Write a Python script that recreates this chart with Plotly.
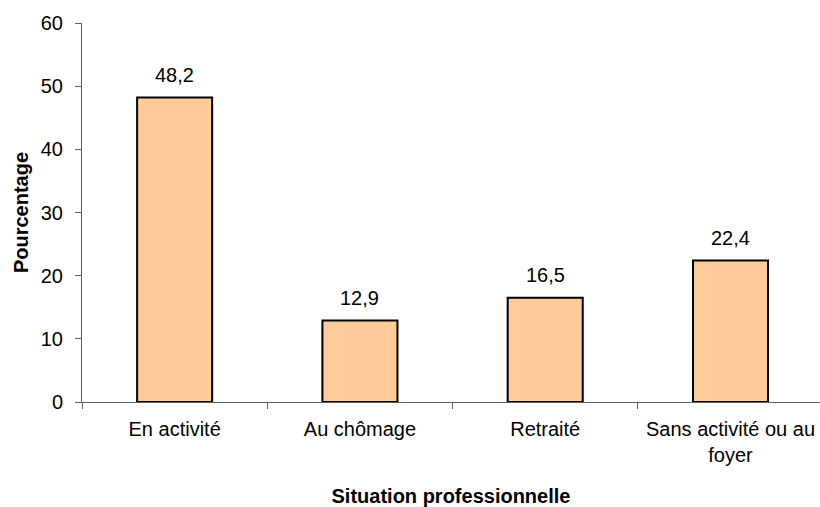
import plotly.graph_objects as go

# Répartition par situation professionnelle (%)
categories = ["En activité", "Au chômage", "Retraité", "Sans activité ou au<br>foyer"]
values = [48.2, 12.9, 16.5, 22.4]
y_ticks = [0, 10, 20, 30, 40, 50, 60]

FONT = "Liberation Sans, Arial, sans-serif"

fig = go.Figure(
    go.Bar(
        x=categories,
        y=values,
        marker=dict(color="#FFCC99", line=dict(color="#000000", width=2)),
        hoverinfo="skip",
    )
)

# Value labels above each bar, with a comma as decimal separator
for cat, val in zip(categories, values):
    fig.add_annotation(
        x=cat, y=val, text=f"{val:.1f}".replace(".", ","),
        showarrow=False, yanchor="bottom", yshift=10,
        font=dict(family=FONT, size=20, color="#000000"),
    )

fig.update_layout(
    width=820, height=507,
    margin=dict(l=82, r=0, t=23, b=105),
    paper_bgcolor="white", plot_bgcolor="white",
    bargap=0.595,
    showlegend=False,
    font=dict(family=FONT, size=20, color="#000000"),
)

fig.update_xaxes(
    type="category",
    range=[-0.5, 3.483],
    showline=True, linecolor="#606060", linewidth=1,
    ticks="outside", tickson="boundaries", ticklen=6, tickcolor="#606060",
    ticklabelstandoff=9,
    showgrid=False, zeroline=False,
    title=dict(text="<b>Situation professionnelle</b>", font=dict(size=20), standoff=27),
)

fig.update_yaxes(
    range=[0, 60],
    tickvals=y_ticks,
    showline=True, linecolor="#606060", linewidth=1,
    ticks="outside", ticklen=6, tickcolor="#606060",
    ticklabelstandoff=8,
    showgrid=False, zeroline=False,
    title=dict(text="<b>Pourcentage</b>", font=dict(size=20), standoff=6),
)

fig.write_html("out.html")
